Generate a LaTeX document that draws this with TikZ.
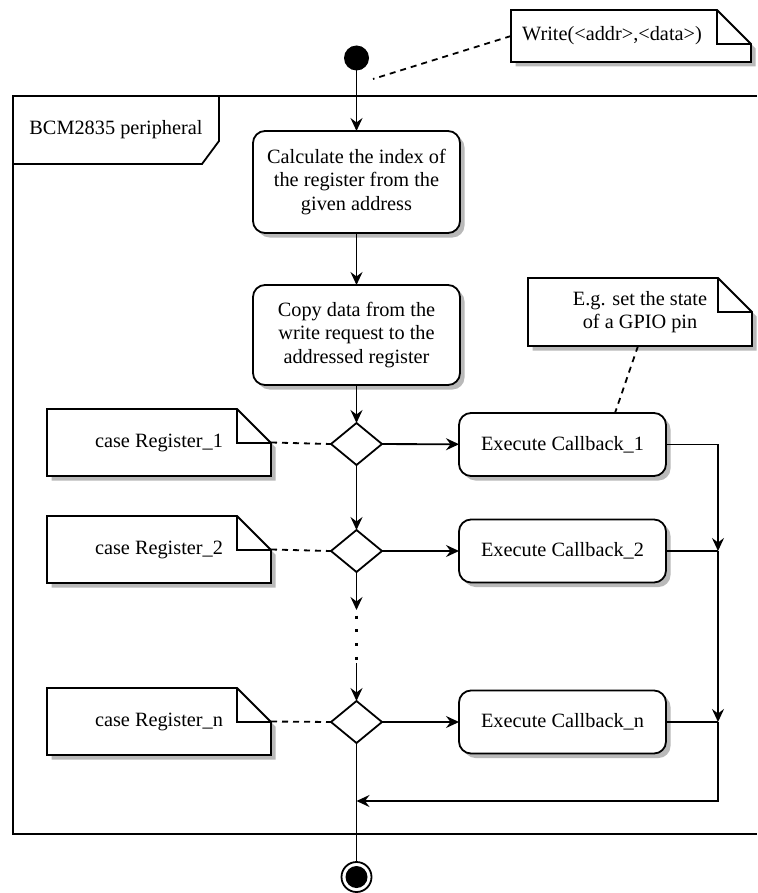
\documentclass[tikz,border=0pt]{standalone}
\usepackage{fontspec}
\setmainfont{Liberation Serif}
\usetikzlibrary{arrows.meta,shapes.geometric,shadows,calc}
\pgfdeclarelayer{background}
\pgfsetlayers{background,main}
\definecolor{shadowgray}{RGB}{185,185,185}
\tikzset{
  ln/.style={line width=1.8pt},
  arr/.style={ln, -{Stealth[length=13pt,width=12pt,inset=4.5pt]}},
  act/.style={draw, ln, rounded corners=12pt, fill=white, minimum width=207pt,
    align=center, inner sep=0pt, outer sep=0pt,
    drop shadow={shadow xshift=4.5pt,shadow yshift=-4.5pt,fill=shadowgray,opacity=1}},
  dec/.style={draw, ln, diamond, minimum width=51pt, minimum height=42pt,
    inner sep=0pt, outer sep=0pt, fill=white},
  notebox/.style={align=center, inner sep=0pt, outer sep=0pt},
  dashln/.style={ln, dash pattern=on 6pt off 5pt},
  dotln/.style={line width=2.8pt, dash pattern=on 2.8pt off 10.9pt},
}
\newcommand\dognote[2][34]{%
  \begin{pgfonlayer}{background}
  \fill[shadowgray] ($(#2.north west)+(4.5,4.5)$) -- ($(#2.north east)+(-#1+4.5,4.5)$)
     -- ($(#2.north east)+(4.5,#1+4.5)$) -- ($(#2.south east)+(4.5,4.5)$)
     -- ($(#2.south west)+(4.5,4.5)$) -- cycle;
  \filldraw[ln,fill=white] (#2.north west) -- ($(#2.north east)+(-#1,0)$)
     -- ($(#2.north east)+(0,#1)$) -- (#2.south east) -- (#2.south west) -- cycle;
  \draw[ln] ($(#2.north east)+(-#1,0)$) -- ($(#2.north east)+(-#1,#1)$)
     -- ($(#2.north east)+(0,#1)$);
  \end{pgfonlayer}}
\begin{document}
\begin{tikzpicture}[x=1pt,y=-1pt,
  every node/.style={font=\fontsize{20.3}{23.5}\selectfont}]
\useasboundingbox (0,0) rectangle (757,893);

% frame
\draw[ln] (757,96) -- (13,96) -- (13,834) -- (757,834);
\draw[ln] (219,96) -- (219,141) -- (202,164) -- (13,164);
\node[notebox] (frlabel) at (116,130) {BCM2835 peripheral};

% start / end
\node[circle, fill=black, minimum size=25pt, inner sep=0pt, outer sep=0pt] (start) at (356.5,58) {};
\node[circle, draw, ln, fill=white, minimum size=30pt, inner sep=0pt, outer sep=0pt] (end) at (356.5,877) {};
\fill (end.center) circle (11pt);

% actions
\node[act, minimum height=102pt] (calc) at (356.5,182)
  {Calculate the index of\\the register from the\\given address};
\node[act, minimum height=100pt] (copy) at (356.5,335)
  {Copy data from the\\write request to the\\addressed register};

\node[dec] (d1) at (356.5,444) {};
\node[dec] (d2) at (356.5,551) {};
\node[dec] (dn) at (356.5,722) {};

\node[act, minimum height=63pt] (cb1) at (562.5,444.5) {Execute Callback\_1};
\node[act, minimum height=63pt] (cb2) at (562.5,551) {Execute Callback\_2};
\node[act, minimum height=63pt] (cbn) at (562.5,722) {Execute Callback\_n};

% notes
\node[notebox, minimum width=240pt, minimum height=52pt] (wnote) at (631,36)
  {Write(<addr>,<data>)\hspace*{38pt}};
\dognote{wnote}
\node[notebox, minimum width=224pt, minimum height=68pt] (egnote) at (640,312)
  {E.g. set the state\\of a GPIO pin};
\dognote{egnote}
\node[notebox, minimum width=224pt, minimum height=67pt] (n1) at (159,442.5) {case Register\_1};
\dognote{n1}
\node[notebox, minimum width=224pt, minimum height=67pt] (n2) at (159,549.5) {case Register\_2};
\dognote{n2}
\node[notebox, minimum width=224pt, minimum height=67pt] (nn) at (159,721.5) {case Register\_n};
\dognote{nn}

% helper coordinates
\coordinate (wfree) at (373,79);
\coordinate (gapA) at (356.5,610);
\coordinate (gapB) at (356.5,663);
\coordinate (j2) at (718,551);
\coordinate (jn) at (718,722);
\coordinate (mr) at (356.5,801);

% control flow
\draw[arr] (start) -- (calc);
\draw[arr] (calc) -- (copy);
\draw[arr] (copy) -- (d1);
\draw[arr] (d1) -- (cb1);
\draw[arr] (d1) -- (d2);
\draw[arr] (d2) -- (cb2);
\draw[arr] (dn) -- (cbn);
\draw[arr] (d2.south) -- (gapA);
\draw[dotln] ([yshift=8pt]gapA) -- ([yshift=-1pt]gapB);
\draw[arr] (gapB) -- (dn.north);
\draw[ln] (dn.south) -- (end.north);

\draw[arr] (cb1.east) -| (j2);
\draw[ln] (cb2.east) -- (j2);
\draw[arr] (j2) -- (jn);
\draw[ln] (cbn.east) -- (jn);
\draw[arr] (jn) |- (mr);

% note links
\draw[dashln] (wnote.west) -- (wfree);
\draw[dashln] ([xshift=-2pt]egnote.south) -- ([xshift=52.5pt]cb1.north);
\draw[dashln] (n1.east) -- (d1.west);
\draw[dashln] (n2.east) -- (d2.west);
\draw[dashln] (nn.east) -- (dn.west);
\end{tikzpicture}
\end{document}
